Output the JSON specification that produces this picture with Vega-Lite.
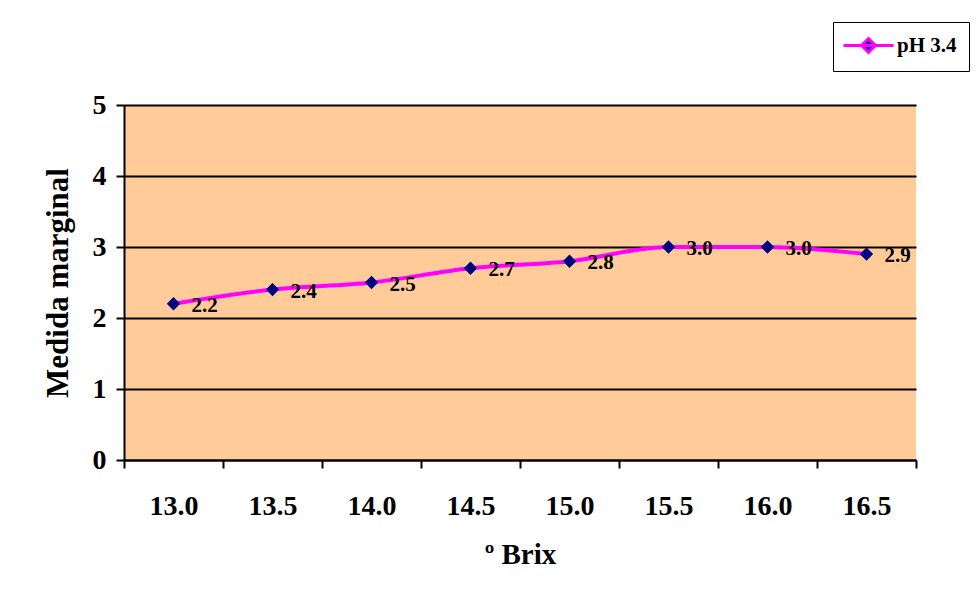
{
  "$schema": "https://vega.github.io/schema/vega-lite/v6.json",
  "autosize": "none",
  "width": 792,
  "height": 355,
  "padding": {"left": 124, "top": 105, "right": 60, "bottom": 145},
  "background": "white",
  "data": {"values": [
    {"brix": "13.0", "value": 2.2, "series": "pH 3.4"},
    {"brix": "13.5", "value": 2.4, "series": "pH 3.4"},
    {"brix": "14.0", "value": 2.5, "series": "pH 3.4"},
    {"brix": "14.5", "value": 2.7, "series": "pH 3.4"},
    {"brix": "15.0", "value": 2.8, "series": "pH 3.4"},
    {"brix": "15.5", "value": 3.0, "series": "pH 3.4"},
    {"brix": "16.0", "value": 3.0, "series": "pH 3.4"},
    {"brix": "16.5", "value": 2.9, "series": "pH 3.4"}
  ]},
  "encoding": {
    "x": {"field": "brix", "type": "ordinal", "title": "º Brix",
      "scale": {"type": "band", "paddingInner": 0, "paddingOuter": 0},
      "axis": {"labelAngle": 0, "tickBand": "extent", "domainColor": "black", "domainWidth": 2,
        "tickColor": "black", "tickWidth": 2, "tickSize": 8, "labelPadding": 24,
        "labelFont": "Liberation Serif", "labelFontSize": 28, "labelFontWeight": "bold", "labelColor": "black",
        "titleFont": "Liberation Serif", "titleFontSize": 29, "titleFontWeight": "bold", "titleColor": "black",
        "titlePadding": 20}},
    "y": {"field": "value", "type": "quantitative", "title": "Medida marginal",
      "scale": {"domain": [0, 5], "nice": false},
      "axis": {"values": [0, 1, 2, 3, 4, 5], "format": "d", "grid": true, "gridColor": "black", "gridWidth": 2, "gridOpacity": 1,
        "domainColor": "black", "domainWidth": 2, "tickColor": "black", "tickWidth": 2, "tickSize": 8,
        "labelPadding": 10, "labelFont": "Liberation Serif", "labelFontSize": 28, "labelFontWeight": "bold", "labelColor": "black",
        "titleFont": "Liberation Serif", "titleFontSize": 31, "titleFontWeight": "bold", "titleColor": "black",
        "titlePadding": 18}}
  },
  "layer": [
    {"mark": {"type": "line", "interpolate": "monotone", "strokeWidth": 4},
      "encoding": {"color": {"field": "series", "type": "nominal", "scale": {"range": ["#FF00FF"]},
        "legend": {"title": null, "orient": "none", "legendX": 709, "legendY": -83,
          "symbolType": "M-2.5,0H2.5M0,-0.7L0.7,0L0,0.7L-0.7,0Z", "symbolSize": 400, "symbolOffset": 12,
          "symbolStrokeWidth": 3, "strokeColor": "black", "padding": 12, "fillColor": "white",
          "labelFont": "Liberation Serif", "labelFontSize": 21, "labelFontWeight": "bold", "labelColor": "black", "labelOffset": 17,
          "encode": {"symbols": {"update": {"fill": {"value": "#000080"}, "fillOpacity": {"value": 1}, "stroke": {"value": "#FF00FF"}, "strokeWidth": {"value": 3}}}}}}}},
    {"mark": {"type": "point", "shape": "diamond", "filled": true, "color": "#000080", "size": 180, "opacity": 1}},
    {"mark": {"type": "text", "align": "left", "baseline": "middle", "dx": 18, "dy": 2,
      "font": "Liberation Serif", "fontSize": 21, "fontWeight": "bold", "color": "black"},
      "encoding": {"text": {"field": "value", "type": "quantitative", "format": ".1f"}}}
  ],
  "config": {"view": {"fill": "#FFCC99", "stroke": null}}
}
